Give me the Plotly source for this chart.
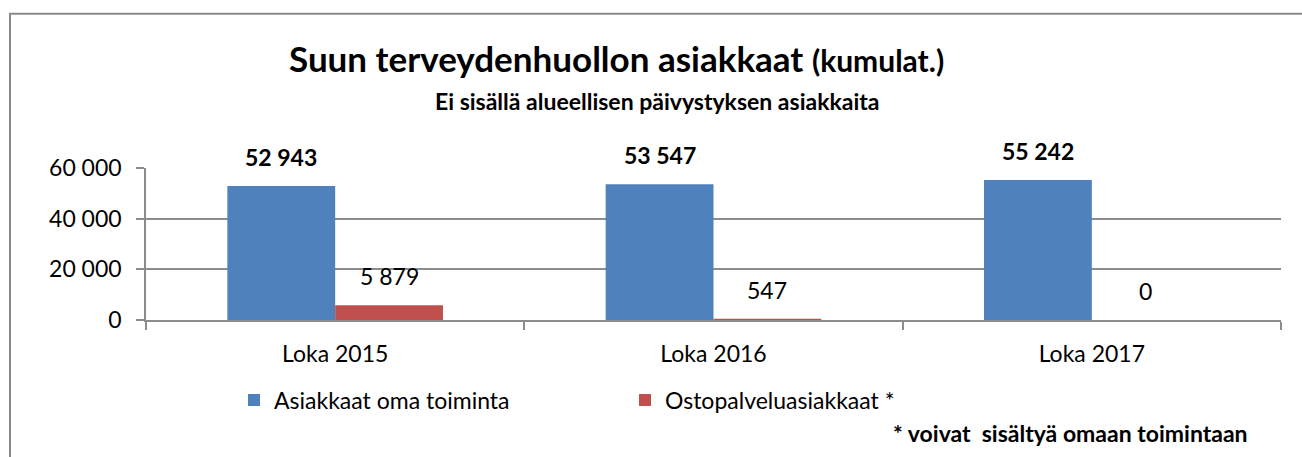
import plotly.graph_objects as go

categories = ["Loka 2015", "Loka 2016", "Loka 2017"]
series_names = ["Asiakkaat oma toiminta", "Ostopalveluasiakkaat *"]
own_values = [52943, 53547, 55242]
bought_values = [5879, 547, 0]
y_ticks = [0, 20000, 40000, 60000]

title_main = "Suun terveydenhuollon asiakkaat"
title_suffix = "(kumulat.)"
subtitle = "Ei sisällä alueellisen päivystyksen asiakkaita"
footnote = "* voivat\u00a0 sisältyä omaan toimintaan"

W, H = 1302, 457
L, R, T, B = 146, 21, 168, 135
PW = W - L - R
PH = H - T - B
BARGAP = 0.43

FONT = "Lato"
BLUE = "#4F81BD"
RED = "#C0504D"
GRID = "#8c8c8c"


def px2x(px):
    return (px - L) / PW


def py2y(py):
    return (H - B - py) / PH


def fmt(v):
    return f"{v:,}".replace(",", " ")


fig = go.Figure()
fig.add_trace(go.Bar(x=categories, y=own_values, name=series_names[0],
                     marker=dict(color=BLUE, line=dict(width=0))))
fig.add_trace(go.Bar(x=categories, y=bought_values, name=series_names[1],
                     marker=dict(color=RED, line=dict(width=0))))

bar_px = PW / len(categories) * (1 - BARGAP) / 2
annotations = []
for i, (vals, bold) in enumerate([(own_values, True), (bought_values, False)]):
    for c, v in zip(categories, vals):
        txt = f"<b>{fmt(v)}</b>" if bold else fmt(v)
        annotations.append(dict(
            x=c, y=v, xref="x", yref="y", text=txt, showarrow=False,
            xanchor="center", yanchor="bottom",
            xshift=(i - 0.5) * bar_px, yshift=13,
            font=dict(family=FONT, size=23, color="black")))

annotations.append(dict(
    x=px2x(657), y=py2y(100), xref="paper", yref="paper",
    text=f"<b>{subtitle}</b>", showarrow=False, xanchor="center", yanchor="middle",
    font=dict(family=FONT, size=23, color="black")))
annotations.append(dict(
    x=px2x(1250), y=py2y(436), xref="paper", yref="paper",
    text=f"<b>{footnote}</b>", showarrow=False, xanchor="right", yanchor="middle",
    font=dict(family=FONT, size=23, color="black")))

fig.update_layout(
    width=W, height=H,
    margin=dict(l=L, r=R, t=T, b=B, pad=0),
    paper_bgcolor="white", plot_bgcolor="white",
    separators=", ",
    barmode="group", bargap=BARGAP, bargroupgap=0,
    font=dict(family=FONT, size=23, color="black"),
    title=dict(
        text=f"<b>{title_main} <span style='font-size:30px'>{title_suffix}</span></b>",
        xref="container", yref="container", x=289 / W, y=1 - 60 / H,
        xanchor="left", yanchor="middle",
        font=dict(family=FONT, size=35, color="black")),
    showlegend=True,
    legend=dict(
        orientation="h", xref="container", yref="container",
        x=234 / W, y=1 - 400 / H, xanchor="left", yanchor="middle",
        entrywidth=346, entrywidthmode="pixels",
        font=dict(family=FONT, size=23, color="black"),
        bgcolor="rgba(0,0,0,0)", borderwidth=0, traceorder="normal"),
    annotations=annotations,
    shapes=[dict(type="rect", xref="paper", yref="paper",
                 x0=px2x(10), x1=px2x(1330), y0=py2y(480), y1=py2y(12),
                 line=dict(color="#8a8a8a", width=2), fillcolor="rgba(0,0,0,0)",
                 layer="below")],
)

fig.update_xaxes(
    type="category", showgrid=False, showline=True, linecolor=GRID, linewidth=1.5,
    ticks="outside", tickson="boundaries", ticklen=8, tickcolor=GRID, tickwidth=1.5,
    ticklabelstandoff=12, tickfont=dict(family=FONT, size=23, color="black"),
    zeroline=False, fixedrange=True)
fig.update_yaxes(
    range=[0, 60000], tickvals=y_ticks, tickformat=",d",
    showgrid=True, gridcolor=GRID, gridwidth=1.5,
    showline=True, linecolor=GRID, linewidth=1.5,
    ticks="outside", ticklen=8, tickcolor=GRID, tickwidth=1.5,
    ticklabelstandoff=10, tickfont=dict(family=FONT, size=23, color="black"),
    zeroline=False, fixedrange=True)

fig.write_html("out.html", config={"displayModeBar": False},
               post_script="document.body.style.margin='0';")
